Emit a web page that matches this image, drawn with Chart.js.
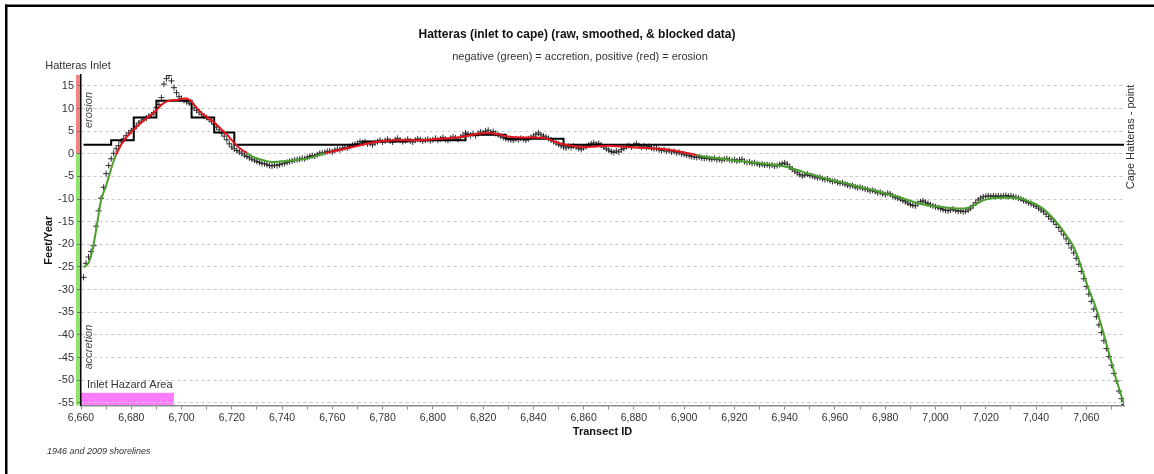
<!DOCTYPE html>
<html>
<head>
<meta charset="utf-8">
<script src="https://cdn.jsdelivr.net/npm/chart.js@4.4.1/dist/chart.umd.min.js"></script>
<style>
  html, body { margin: 0; padding: 0; background: #fff; }
  canvas { display: block; }
</style>
</head>
<body>
<canvas id="chart" width="1154" height="474"></canvas>
<script>
// Raw shoreline change rates (ft/yr), one per transect starting at this ID
const firstTransect = 6661;
const rawRates = [
  -27.3,-24.2,-22.8,-21.6,-20.3,-16.0,-12.6,-9.8,-7.4,-4.4,
  -2.6,-1.1,0.1,1.1,1.8,2.6,3.3,4.0,4.6,5.1,
  5.5,6.1,6.8,7.2,7.6,7.9,8.3,8.6,9.1,10.2,
  10.9,12.4,15.4,16.6,17.3,16.1,14.6,13.5,12.6,12.2,
  11.8,11.5,11.2,11.0,10.1,9.6,9.2,8.7,8.3,8.0,
  7.6,7.1,6.6,5.9,5.3,4.6,3.9,3.1,2.2,1.5,
  1.1,0.7,0.4,0.1,-0.3,-0.6,-0.9,-1.2,-1.4,-1.7,
  -1.9,-2.1,-2.2,-2.4,-2.6,-2.7,-2.5,-2.6,-2.4,-2.2,
  -2.1,-1.9,-1.7,-1.6,-1.4,-1.3,-1.2,-1.0,-1.1,-0.8,
  -0.6,-0.4,-0.5,-0.2,0.1,0.2,0.3,0.5,0.6,0.4,
  0.8,1.0,0.9,1.2,1.4,1.3,1.6,1.9,2.1,2.3,
  2.7,2.4,2.6,2.2,2.3,2.0,2.4,2.7,3.0,2.6,
  2.9,3.2,2.8,2.6,3.1,3.4,3.0,2.7,2.9,3.2,
  2.8,2.6,3.0,3.3,3.1,2.8,3.0,3.2,2.9,3.1,
  3.4,3.0,3.3,3.6,3.2,3.0,3.4,3.7,3.5,3.2,
  3.6,4.1,4.6,4.3,4.1,4.4,4.0,4.5,4.8,4.6,
  5.0,5.2,4.7,4.9,4.5,4.2,3.9,3.6,3.4,3.2,
  3.1,3.0,3.3,3.1,3.4,3.2,3.0,3.3,3.6,3.9,
  4.3,4.6,4.2,3.9,3.7,3.4,3.1,2.7,2.4,2.1,
  1.8,1.5,1.3,1.6,1.4,1.7,1.5,1.2,1.0,1.3,
  1.6,1.9,2.2,2.4,2.1,2.3,1.9,1.5,1.1,0.8,
  0.5,0.3,0.6,0.4,0.9,1.2,1.6,1.8,1.5,1.9,
  2.2,1.8,1.5,1.7,1.4,1.6,1.3,1.1,1.2,0.9,
  0.7,0.9,0.6,0.7,0.4,0.5,0.2,0.3,0.0,-0.1,
  -0.3,-0.4,-0.6,-0.7,-0.8,-0.7,-0.9,-1.0,-0.9,-1.1,
  -1.2,-1.0,-1.3,-1.2,-1.4,-1.2,-1.1,-1.3,-1.5,-1.3,
  -1.6,-1.4,-1.2,-1.7,-1.9,-1.8,-2.1,-2.0,-2.2,-2.4,
  -2.3,-2.5,-2.4,-2.6,-2.5,-2.7,-2.6,-2.4,-2.2,-2.0,
  -2.3,-2.9,-3.4,-3.8,-4.2,-4.6,-4.9,-4.7,-4.5,-4.8,
  -4.9,-5.1,-5.3,-5.2,-5.5,-5.7,-5.6,-5.9,-6.1,-6.0,
  -6.3,-6.5,-6.4,-6.7,-6.9,-7.1,-7.0,-7.3,-7.5,-7.4,
  -7.6,-7.8,-7.9,-8.2,-8.1,-8.3,-8.6,-8.5,-8.8,-9.0,
  -8.7,-8.9,-9.3,-9.6,-9.8,-10.0,-10.3,-10.6,-10.9,-11.2,
  -11.4,-11.5,-11.0,-10.6,-10.4,-10.7,-11.0,-11.3,-11.5,-11.7,
  -11.9,-12.1,-12.3,-12.5,-12.6,-12.4,-12.2,-12.5,-12.7,-12.6,
  -12.8,-12.7,-12.4,-12.0,-11.4,-10.8,-10.2,-9.8,-9.5,-9.4,
  -9.3,-9.4,-9.3,-9.4,-9.3,-9.4,-9.3,-9.2,-9.4,-9.3,
  -9.5,-9.6,-9.8,-10.0,-10.3,-10.5,-10.8,-11.0,-11.3,-11.6,
  -12.0,-12.4,-12.8,-13.3,-13.9,-14.4,-15.0,-15.6,-16.3,-17.1,
  -17.9,-18.8,-19.8,-20.8,-21.9,-23.1,-24.4,-26.0,-27.6,-29.3,
  -31.0,-32.6,-34.3,-36.0,-37.8,-39.5,-41.3,-43.0,-44.8,-46.7,
  -48.5,-50.2,-52.4,-54.1,-55.4
];

// Smoothed rates
const smoothIds = [
  6661,6662,6663,6664,6665,6666,6667,6668,6669,6670,6671,6672,6673,6674,6675,6676,6677,6678,
  6680,6682,6684,6686,6688,6690,6692,6694,6696,6698,6700,6702,6704,6706,6708,6710,6712,6714,
  6716,6718,6720,6722,6724,6726,6728,6730,6733,6736,6739,6742,6745,6748,6751,6754,6757,6760,
  6764,6768,6772,6776,6780,6785,6790,6795,6800,6805,6810,6814,6818,6822,6826,6830,6835,6840,
  6845,6848,6851,6855,6860,6865,6870,6875,6880,6885,6890,6895,6900,6905,6910,6915,6920,6925,
  6930,6935,6940,6945,6950,6955,6960,6965,6970,6975,6980,6985,6990,6995,7000,7005,7010,7013,
  7016,7019,7022,7026,7030,7034,7037,7040,7043,7046,7049,7052,7055,7058,7061,7064,7067,7070,
  7072,7075
];
const smoothRates = [
  -25.1,-24.7,-24.1,-22.5,-20.0,-16.9,-13.4,-10.2,-8.5,-7.0,-5.2,-3.3,-1.6,-0.2,1.0,2.0,2.8,3.6,
  4.8,5.9,6.9,7.8,8.6,9.6,10.8,11.5,11.8,11.9,12.1,12.2,11.5,10.2,9.0,8.1,7.4,6.4,
  5.3,4.3,3.0,1.8,0.9,0.2,-0.5,-1.0,-1.5,-1.8,-1.7,-1.6,-1.4,-1.2,-0.9,-0.4,0.1,0.5,
  1.0,1.5,2.0,2.5,2.8,3.0,3.0,3.0,3.2,3.4,3.6,4.0,4.4,4.6,4.3,3.8,3.6,3.6,
  3.4,2.8,2.2,1.8,1.5,1.6,1.8,1.6,1.4,1.3,1.1,0.8,0.3,-0.3,-0.8,-1.1,-1.5,-1.8,
  -2.1,-2.4,-2.8,-3.6,-4.5,-5.3,-6.0,-6.6,-7.4,-8.0,-8.8,-9.5,-10.4,-11.2,-11.6,-11.9,-12.1,-11.9,
  -11.2,-10.3,-9.9,-9.7,-9.7,-9.9,-10.5,-11.2,-12.2,-13.8,-15.7,-18.0,-20.6,-25.0,-30.0,-34.3,-40.0,-46.0,
  -50.0,-55.3
];

// Blocked rates: each value holds from its start ID to the next one
const blockStarts = [6661, 6672, 6681, 6690, 6704, 6713, 6721, 6772, 6790, 6813, 6829, 6852, 7075];
const blockRates  = [2,    3,    8,    11.7, 8,    4.7,  2,    2.7,  3.0,  4.2,  3.3,  2,    2];

// Transect range of the inlet hazard area
const hazardRange = [6660, 6697];
const hazardTop = -52.8;

const RED = '#e8141c';
const GREEN = '#4aa02c';

const rawPoints = rawRates.map((v, i) => ({ x: firstTransect + i, y: v }));
const smoothPoints = smoothIds.map((id, i) => ({ x: id, y: smoothRates[i] }));
const blockPoints = blockStarts.map((id, i) => ({ x: id, y: blockRates[i] }));

const decorations = {
  id: 'decorations',
  beforeDraw(chart) {
    const { ctx, chartArea: a, scales: { x, y } } = chart;
    ctx.save();
    ctx.fillStyle = '#ffffff';
    ctx.fillRect(0, 0, chart.width, chart.height);
    // outer frame (top and left edges)
    ctx.fillStyle = '#000';
    ctx.fillRect(5, 4.5, chart.width - 5, 2.5);
    ctx.fillRect(5, 4.5, 2.5, chart.height - 4.5);
    // erosion / accretion bands beside the value axis
    const y0 = y.getPixelForValue(0);
    ctx.fillStyle = '#f08484';
    ctx.fillRect(a.left - 5, a.top, 4.5, y0 - a.top);
    ctx.fillStyle = '#8ee46c';
    ctx.fillRect(a.left - 5, y0, 4.5, a.bottom - y0);
    // inlet hazard area
    const hx0 = x.getPixelForValue(hazardRange[0]);
    const hx1 = x.getPixelForValue(hazardRange[1]);
    const hy = y.getPixelForValue(hazardTop);
    ctx.fillStyle = 'rgba(255, 100, 255, 0.85)';
    ctx.fillRect(hx0, hy, hx1 - hx0, a.bottom - hy);
    ctx.restore();
  },
  afterDraw(chart) {
    const { ctx } = chart;
    const fam = '"Liberation Sans", Arial, sans-serif';
    ctx.save();
    ctx.textAlign = 'center';
    ctx.textBaseline = 'middle';
    ctx.fillStyle = '#111';
    ctx.font = 'bold 12px ' + fam;
    ctx.fillText('Hatteras (inlet to cape) (raw, smoothed, & blocked data)', 577, 35);
    ctx.fillStyle = '#333';
    ctx.font = '11px ' + fam;
    ctx.fillText('negative (green) = accretion, positive (red) = erosion', 580, 57);

    ctx.font = '11px ' + fam;
    ctx.fillText('Hatteras Inlet', 78, 66);

    ctx.textAlign = 'left';
    ctx.fillText('Inlet Hazard Area', 87, 385);

    ctx.font = 'italic 9px ' + fam;
    ctx.fillText('1946 and 2009 shorelines', 47, 451);

    // rotated labels
    const rot = (text, cx, cy, font) => {
      ctx.save();
      ctx.translate(cx, cy);
      ctx.rotate(-Math.PI / 2);
      ctx.textAlign = 'center';
      ctx.font = font;
      ctx.fillText(text, 0, 0);
      ctx.restore();
    };
    ctx.fillStyle = '#444';
    rot('erosion', 89, 110, 'italic 11px ' + fam);
    rot('accretion', 89, 347, 'italic 11px ' + fam);
    ctx.fillStyle = '#333';
    rot('Cape Hatteras - point', 1131, 137, '11px ' + fam);
    ctx.restore();
  }
};

new Chart(document.getElementById('chart'), {
  type: 'line',
  data: {
    datasets: [
      {
        label: 'smoothed',
        data: smoothPoints,
        order: 1,
        borderWidth: 2,
        pointRadius: 0,
        cubicInterpolationMode: 'monotone',
        borderColor: RED,
        segment: {
          borderColor: c => ((c.p0.parsed.y + c.p1.parsed.y) / 2 >= 0 ? RED : GREEN)
        }
      },
      {
        label: 'blocked',
        data: blockPoints,
        order: 2,
        stepped: true,
        borderColor: '#000',
        borderWidth: 2,
        pointRadius: 0
      },
      {
        label: 'raw',
        data: rawPoints,
        order: 3,
        showLine: false,
        pointStyle: 'cross',
        pointRadius: 3,
        pointBorderWidth: 1,
        pointBorderColor: '#2a2a2a',
        pointBackgroundColor: '#2a2a2a'
      }
    ]
  },
  options: {
    responsive: false,
    animation: false,
    devicePixelRatio: 1,
    layout: { padding: { top: 75, right: 30, bottom: 35.5, left: 42 } },
    plugins: {
      legend: { display: false },
      tooltip: { enabled: false }
    },
    scales: {
      x: {
        type: 'linear',
        min: 6660,
        max: 7075,
        afterFit: s => { s.height = 33; },
        title: {
          display: true,
          text: 'Transect ID',
          font: { family: '"Liberation Sans", Arial, sans-serif', size: 11, weight: 'bold' },
          color: '#111',
          padding: { top: 0, bottom: 0 }
        },
        ticks: {
          stepSize: 10,
          includeBounds: false,
          autoSkip: false,
          maxRotation: 0,
          padding: 2,
          color: '#333',
          font: { family: '"Liberation Sans", Arial, sans-serif', size: 10.5 },
          callback: v => (v % 20 === 0 ? v.toLocaleString('en-US') : '')
        },
        grid: { drawOnChartArea: false, tickLength: 4, tickColor: '#888', tickWidth: 1 },
        border: { color: '#8c8c8c', width: 1.5 }
      },
      y: {
        min: -55.6,
        max: 17.4,
        afterFit: s => { s.width = 39; },
        title: {
          display: true,
          text: 'Feet/Year',
          font: { family: '"Liberation Sans", Arial, sans-serif', size: 11, weight: 'bold' },
          color: '#111',
          padding: { top: 0, bottom: 0 }
        },
        ticks: {
          stepSize: 5,
          includeBounds: false,
          padding: 3,
          color: '#333',
          font: { family: '"Liberation Sans", Arial, sans-serif', size: 11 }
        },
        grid: { color: '#c9c9c9', lineWidth: 1, tickLength: 4, tickColor: '#777' },
        border: { color: '#000', width: 1.5, dash: [3, 3] }
      }
    }
  },
  plugins: [decorations]
});
</script>
</body>
</html>
